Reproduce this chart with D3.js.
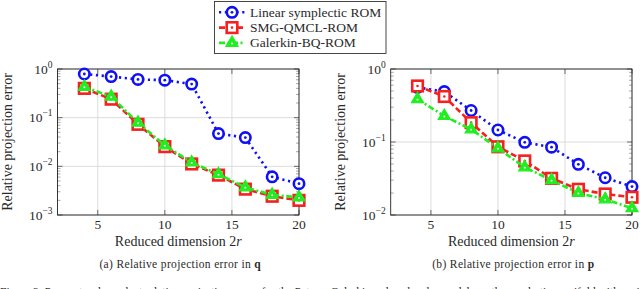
<!DOCTYPE html>
<html><head><meta charset="utf-8">
<script src="https://cdn.jsdelivr.net/npm/d3@7"></script>
<style>body{margin:0;background:#fff}svg{display:block}</style>
</head><body><svg id="c" width="640" height="289" font-family="'Liberation Serif', 'DejaVu Serif'"></svg>
<script>
const dims = [4,6,8,10,12,14,16,18,20];
const seriesNames = ["Linear symplectic ROM","SMG-QMCL-ROM","Galerkin-BQ-ROM"];
const qLinear = [0.79,0.70,0.61,0.59,0.49,0.047,0.039,0.0061,0.0044];
const qSMG = [0.40,0.24,0.073,0.0254,0.0112,0.0066,0.0034,0.00243,0.0020];
const qGalerkin = [0.43,0.27,0.079,0.027,0.012,0.0069,0.0037,0.0026,0.0023];
const pLinear = [0.56,0.49,0.27,0.146,0.099,0.085,0.0495,0.0324,0.0245];
const pSMG = [0.585,0.42,0.184,0.086,0.055,0.0318,0.0225,0.0194,0.0175];
const pGalerkin = [0.385,0.227,0.149,0.082,0.045,0.030,0.020,0.0164,0.0124];
const xTicks = [5,10,15,20];
const qExps = [0,-1,-2,-3];
const pExps = [0,-1,-2];
const captions = ["(a) Relative projection error in ", "(b) Relative projection error in "];
const captionVars = ["q","p"];

const svg = d3.select("#c");
const FONT = "'Liberation Serif', 'DejaVu Serif'";
const TXT = "#2a2a2a";
const colors = ["#1010f5","#f52020","#20ee20"];
const dashes = ["2.2,3.6","6,3","6,2.5,2,2.5"];

function txt(g){ return g.append("text").attr("font-family",FONT).attr("fill",TXT); }

function panel(x0, x1, yMinExp, series, exps, capIdx) {
  const top = 69, bot = 215;
  const x = d3.scaleLinear().domain([2,20]).range([x0,x1]);
  const y = d3.scaleLog().domain([Math.pow(10,yMinExp),1]).range([bot,top]);
  const g = svg.append("g");
  xTicks.forEach(t => g.append("line").attr("x1",x(t)).attr("x2",x(t)).attr("y1",top).attr("y2",bot).attr("stroke","#d8d8d8").attr("stroke-width",0.9));
  exps.forEach(e => g.append("line").attr("x1",x0).attr("x2",x1).attr("y1",y(Math.pow(10,e))).attr("y2",y(Math.pow(10,e))).attr("stroke","#d8d8d8").attr("stroke-width",0.9));
  for (let e = yMinExp; e < 0; e++) {
    for (let m = 2; m <= 9; m++) {
      const yy = y(m*Math.pow(10,e));
      g.append("line").attr("x1",x0).attr("x2",x0+3).attr("y1",yy).attr("y2",yy).attr("stroke","#555").attr("stroke-width",0.5);
      g.append("line").attr("x1",x1-3).attr("x2",x1).attr("y1",yy).attr("y2",yy).attr("stroke","#555").attr("stroke-width",0.5);
    }
  }
  exps.forEach(e => {
    const yy = y(Math.pow(10,e));
    g.append("line").attr("x1",x0).attr("x2",x0+5).attr("y1",yy).attr("y2",yy).attr("stroke","#333").attr("stroke-width",0.7);
    g.append("line").attr("x1",x1-5).attr("x2",x1).attr("y1",yy).attr("y2",yy).attr("stroke","#333").attr("stroke-width",0.7);
    const t = txt(g).attr("x",x0-5).attr("y",yy+4.5).attr("text-anchor","end").attr("font-size",13.5);
    t.append("tspan").text("10");
    t.append("tspan").attr("dy",-6).attr("font-size",9.5).text(e===0?"0":"\u2212"+(-e));
  });
  xTicks.forEach(tk => {
    g.append("line").attr("x1",x(tk)).attr("x2",x(tk)).attr("y1",bot).attr("y2",bot-5).attr("stroke","#333").attr("stroke-width",0.7);
    g.append("line").attr("x1",x(tk)).attr("x2",x(tk)).attr("y1",top).attr("y2",top+5).attr("stroke","#333").attr("stroke-width",0.7);
    txt(g).attr("x",x(tk)).attr("y",229).attr("text-anchor","middle").attr("font-size",13.5).text(tk);
  });
  g.append("rect").attr("x",x0).attr("y",top).attr("width",x1-x0).attr("height",bot-top).attr("fill","none").attr("stroke","#222").attr("stroke-width",0.9);
  const xl = txt(g).attr("x",(x0+x1)/2).attr("y",246).attr("text-anchor","middle").attr("font-size",14);
  xl.append("tspan").text("Reduced dimension 2");
  xl.append("tspan").attr("font-style","italic").text("r");
  txt(g).attr("transform",`translate(${x0-46},${(top+bot)/2}) rotate(-90)`).attr("text-anchor","middle").attr("font-size",14).text("Relative projection error");
  const cap = txt(g).attr("x",(x0+x1)/2+2).attr("y",268).attr("text-anchor","middle").attr("font-size",11.5).attr("letter-spacing",0.35);
  cap.append("tspan").text(captions[capIdx]);
  cap.append("tspan").attr("font-weight","bold").text(captionVars[capIdx]);
  const line = d3.line().x((d,i)=>x(dims[i])).y(d=>y(d));
  series.forEach((s,k) => {
    g.append("path").datum(s).attr("d",line).attr("fill","none").attr("stroke",colors[k]).attr("stroke-width",2.6).attr("stroke-dasharray",dashes[k]);
    s.forEach((v,i) => drawMarker(g, k, x(dims[i]), y(v)));
  });
}

function drawMarker(g, k, cx, cy) {
  if (k === 0) {
    g.append("circle").attr("cx",cx).attr("cy",cy).attr("r",5.2).attr("fill","#fff").attr("stroke",colors[0]).attr("stroke-width",2.6);
    g.append("circle").attr("cx",cx).attr("cy",cy).attr("r",1.4).attr("fill",colors[0]);
  } else if (k === 1) {
    g.append("rect").attr("x",cx-5.3).attr("y",cy-5.3).attr("width",10.6).attr("height",10.6).attr("fill","#fff").attr("stroke",colors[1]).attr("stroke-width",2.6);
    g.append("circle").attr("cx",cx).attr("cy",cy).attr("r",1.3).attr("fill",colors[1]);
  } else {
    const r = 7;
    const pts = [[cx,cy-r],[cx+r*0.866,cy+r*0.5],[cx-r*0.866,cy+r*0.5]];
    g.append("path").attr("d","M"+pts.map(p=>p.join(",")).join("L")+"Z").attr("fill",colors[2]).attr("stroke",colors[2]).attr("stroke-width",1.2);
    g.append("circle").attr("cx",cx).attr("cy",cy+0.5).attr("r",1).attr("fill","#fff");
  }
}

panel(57.5, 299, -3, [qLinear,qSMG,qGalerkin], qExps, 0);
panel(390.7, 632, -2, [pLinear,pSMG,pGalerkin], pExps, 1);

const lg = svg.append("g");
lg.append("rect").attr("x",214.5).attr("y",1.5).attr("width",171.5).attr("height",52).attr("fill","#fff").attr("stroke","#333").attr("stroke-width",0.9);
seriesNames.forEach((n,k) => {
  const yy = 12.3 + k*15.3;
  lg.append("line").attr("x1",219).attr("x2",245).attr("y1",yy).attr("y2",yy).attr("stroke",colors[k]).attr("stroke-width",2.6).attr("stroke-dasharray",dashes[k]);
  drawMarker(lg, k, 232, yy);
  txt(lg).attr("x",250).attr("y",yy+4.3).attr("font-size",13.5).text(n);
});

txt(svg).attr("x",0).attr("y",296).attr("font-size",11.5).text("Figure 3: Parameter-dependent relative projection errors for the Petrov\u2013Galerkin reduced-order models on the quadratic manifold with variable basis size");
</script></body></html>
